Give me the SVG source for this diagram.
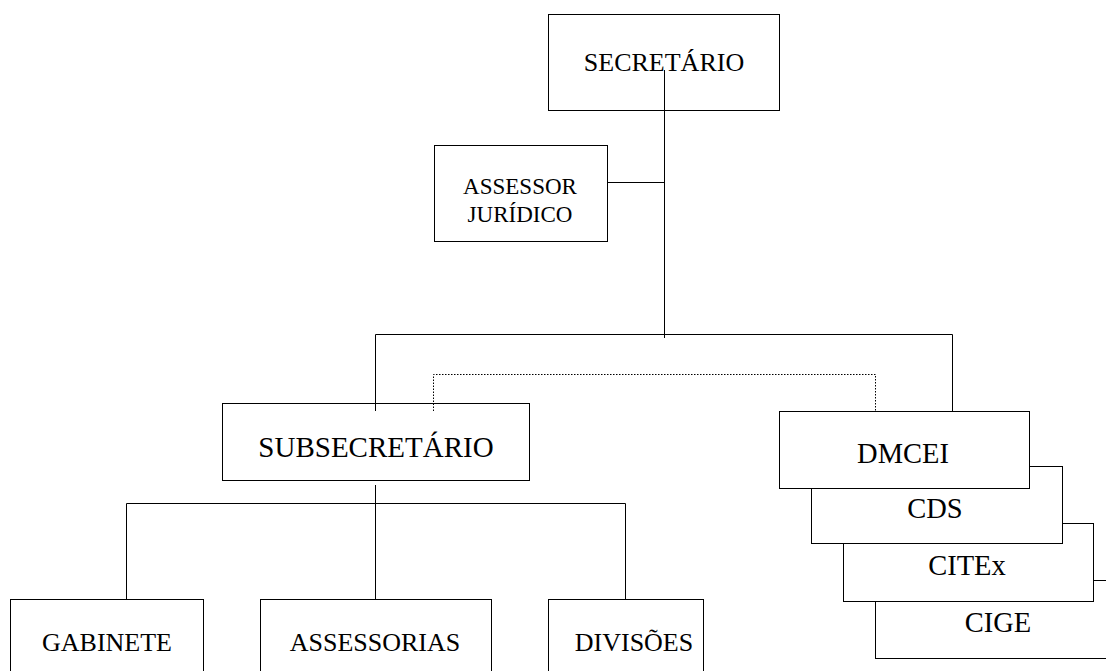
<svg xmlns="http://www.w3.org/2000/svg" width="1106" height="671" viewBox="0 0 1106 671">
<style>
.box{fill:#fff;stroke:#000;stroke-width:1}
.ln{fill:none;stroke:#000;stroke-width:1}
.dot{fill:none;stroke:#000;stroke-width:1;stroke-dasharray:1.5,1.5}
text{font-family:"Liberation Serif","Times New Roman",serif;fill:#000;text-anchor:middle}
.t26{font-size:26px}
.t28{font-size:28.5px}
.t29{font-size:29px}
.t23{font-size:23px}
</style>
<rect width="1106" height="671" fill="#fff"/>
<g id="n-secretario">
<rect class="box" x="548.5" y="14.5" width="231" height="96"/>
<text class="t26" x="664" y="71">SECRETÁRIO</text>
</g>
<g id="n-assessor">
<rect class="box" x="434.5" y="145.5" width="173" height="96"/>
<text class="t23" x="520" y="194">ASSESSOR</text>
<text class="t23" x="520" y="222">JURÍDICO</text>
</g>
<g id="n-subsecretario">
<rect class="box" x="222.5" y="403.5" width="307" height="77"/>
<text class="t29" x="376" y="457">SUBSECRETÁRIO</text>
</g>
<g id="n-cige">
<rect class="box" x="875.5" y="580.5" width="250" height="78"/>
<text class="t28" x="998" y="632">CIGE</text>
</g>
<g id="n-citex">
<rect class="box" x="843.5" y="523.5" width="250" height="78"/>
<text class="t28" x="967" y="575">CITEx</text>
</g>
<g id="n-cds">
<rect class="box" x="811.5" y="466.5" width="251" height="77"/>
<text class="t28" x="935" y="518">CDS</text>
</g>
<g id="n-dmcei">
<rect class="box" x="779.5" y="411.5" width="250" height="77"/>
<text class="t28" x="903" y="463">DMCEI</text>
</g>
<g id="n-gabinete">
<rect class="box" x="10.5" y="599.5" width="193" height="90"/>
<text class="t26" x="107" y="651">GABINETE</text>
</g>
<g id="n-assessorias">
<rect class="box" x="260.5" y="599.5" width="231" height="90"/>
<text class="t26" x="375" y="651">ASSESSORIAS</text>
</g>
<g id="n-divisoes">
<rect class="box" x="548.5" y="599.5" width="155" height="90"/>
<text class="t26" x="634" y="651">DIVISÕES</text>
</g>
<g id="connectors">
<path class="ln" d="M664.5 70 V338"/>
<path class="ln" d="M607.5 182.5 H664.5"/>
<path class="ln" d="M375.5 411 V334.5 H952.5 V411"/>
<path class="dot" d="M433.5 411 V374.5 H875.5 V411"/>
<path class="ln" d="M375.5 485 V599"/>
<path class="ln" d="M126.5 599 V503.5 H625.5 V599"/>
</g>
</svg>
